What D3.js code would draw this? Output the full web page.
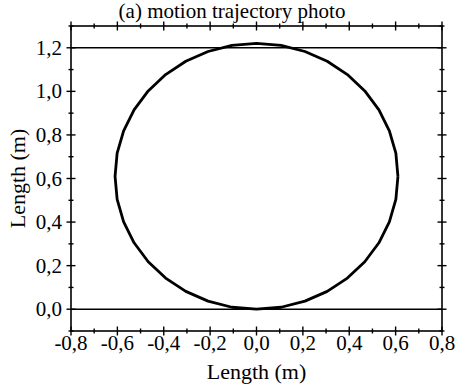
<!DOCTYPE html>
<html>
<head>
<meta charset="utf-8">
<script src="https://cdn.jsdelivr.net/npm/d3@7"></script>
</head>
<body style="margin:0">
<svg id="chart" width="456" height="386"></svg>
<script>
// Trajectory points (m), traced around the loop
const trajX = [0.610, 0.601, 0.573, 0.528, 0.467, 0.392, 0.305, 0.209, 0.106, 0.000,
               -0.106, -0.209, -0.305, -0.392, -0.467, -0.528, -0.573, -0.601, -0.610,
               -0.601, -0.573, -0.528, -0.467, -0.392, -0.305, -0.209, -0.106, 0.000,
               0.106, 0.209, 0.305, 0.392, 0.467, 0.528, 0.573, 0.601, 0.610];
const trajY = [0.610, 0.716, 0.819, 0.915, 1.002, 1.077, 1.138, 1.183, 1.211, 1.220,
               1.211, 1.183, 1.138, 1.077, 1.002, 0.915, 0.819, 0.716, 0.610,
               0.504, 0.401, 0.305, 0.218, 0.143, 0.082, 0.037, 0.009, 0.000,
               0.009, 0.037, 0.082, 0.143, 0.218, 0.305, 0.401, 0.504, 0.610];
// Horizontal reference levels (m)
const refLevels = [0.0, 1.2];
// Axis ticks
const xTicks = [-0.8, -0.6, -0.4, -0.2, 0.0, 0.2, 0.4, 0.6, 0.8];
const yTicks = [0.0, 0.2, 0.4, 0.6, 0.8, 1.0, 1.2];
const xMinor = [-0.7, -0.5, -0.3, -0.1, 0.1, 0.3, 0.5, 0.7];
const yMinor = [-0.1, 0.1, 0.3, 0.5, 0.7, 0.9, 1.1, 1.3];
const xDomain = [-0.8, 0.8];
const yDomain = [-0.1, 1.3];
const titleText = "(a) motion trajectory photo";
const xLabel = "Length (m)";
const yLabel = "Length (m)";

const fmt = d => d3.format(".1f")(d).replace(".", ",").replace("−", "-");

const svg = d3.select("#chart");
const L = 71, R = 442, T = 26, B = 331;
const x = d3.scaleLinear().domain(xDomain).range([L, R]);
const y = d3.scaleLinear().domain(yDomain).range([B, T]);

// Reference lines
svg.selectAll("line.ref").data(refLevels).join("line")
  .attr("class", "ref")
  .attr("x1", L).attr("x2", R)
  .attr("y1", d => y(d)).attr("y2", d => y(d))
  .attr("stroke", "#000").attr("stroke-width", 1.6);

// Trajectory
const pts = trajX.map((v, i) => [v, trajY[i]]);
svg.append("path")
  .datum(pts)
  .attr("d", d3.line().x(d => x(d[0])).y(d => y(d[1])))
  .attr("fill", "none").attr("stroke", "#000").attr("stroke-width", 2.8)
  .attr("stroke-linejoin", "round");

// Tick marks cross the frame on every side
function crossTicks(g, orient, vals, half) {
  g.selectAll("line").data(vals).join("line")
    .each(function(d) {
      const s = d3.select(this);
      if (orient === "bottom" || orient === "top") {
        const yy = orient === "bottom" ? B : T;
        s.attr("x1", x(d)).attr("x2", x(d)).attr("y1", yy - half).attr("y2", yy + half);
      } else {
        const xx = orient === "left" ? L : R;
        s.attr("y1", y(d)).attr("y2", y(d)).attr("x1", xx - half).attr("x2", xx + half);
      }
    })
    .attr("stroke", "#000").attr("stroke-width", 1.4);
}
["bottom", "top"].forEach(o => {
  crossTicks(svg.append("g"), o, xTicks, 4.5);
  crossTicks(svg.append("g"), o, xMinor, 2.5);
});
["left", "right"].forEach(o => {
  crossTicks(svg.append("g"), o, yTicks, 4.5);
  crossTicks(svg.append("g"), o, yMinor, 2.5);
});

// Every text label: name, position, size, anchor, rotation
const labels = [];
xTicks.forEach(v => labels.push({ t: fmt(v), x: x(v), y: 350, s: 21, a: "middle", r: 0 }));
yTicks.forEach(v => labels.push({ t: fmt(v), x: L - 9, y: y(v) + 7, s: 21, a: "end", r: 0 }));
labels.push({ t: titleText, x: 232, y: 18, s: 21, a: "middle", r: 0 });
labels.push({ t: xLabel, x: (L + R) / 2, y: 379, s: 22, a: "middle", r: 0 });
labels.push({ t: yLabel, x: 25, y: (T + B) / 2, s: 22, a: "middle", r: -90 });

svg.selectAll("text.lbl").data(labels).join("text")
  .attr("class", "lbl")
  .attr("font-family", "Times New Roman")
  .attr("font-size", d => d.s)
  .attr("text-anchor", d => d.a)
  .attr("transform", d => `translate(${d.x},${d.y}) rotate(${d.r})`)
  .text(d => d.t);

// Frame
svg.append("rect")
  .attr("x", L).attr("y", T).attr("width", R - L).attr("height", B - T)
  .attr("fill", "none").attr("stroke", "#000").attr("stroke-width", 1.6);
</script>
</body>
</html>
